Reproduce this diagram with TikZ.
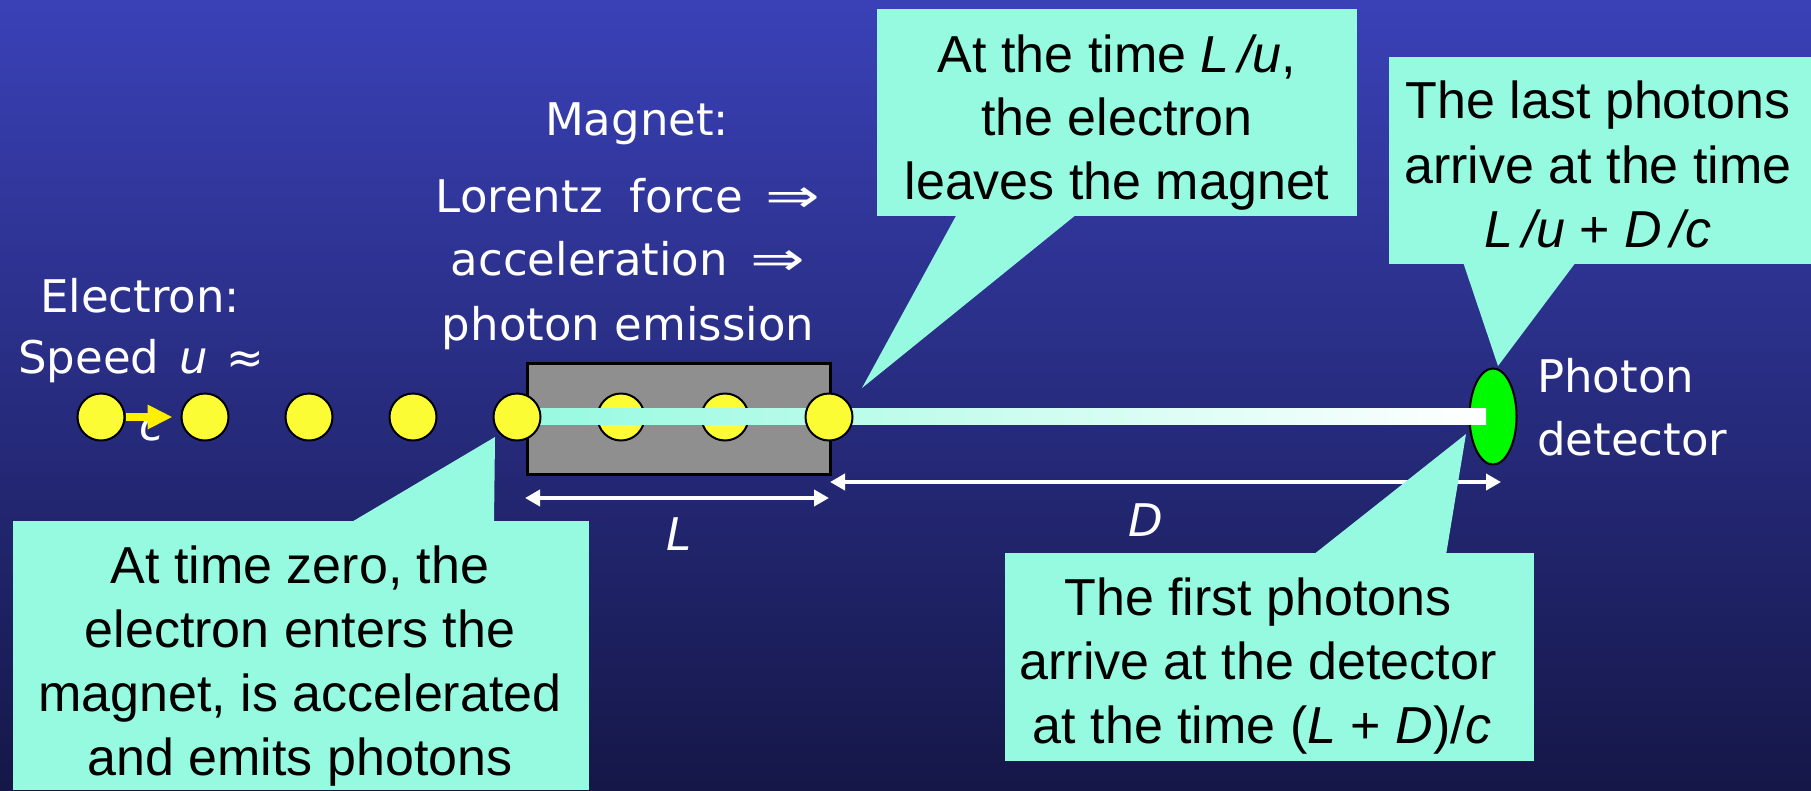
\documentclass[tikz,border=0pt]{standalone}
\usepackage{fontspec}
\usepackage{graphicx}
\setmainfont{Liberation Sans}
\newfontfamily\labfont{DejaVu Sans}
\usetikzlibrary{arrows.meta,shapes.geometric,calc}
\definecolor{aqua}{RGB}{150,250,224}
\definecolor{bgtop}{RGB}{58,65,183}
\definecolor{bgmid}{RGB}{40,45,135}
\definecolor{bgbot}{RGB}{21,23,72}
\definecolor{dotyellow}{RGB}{252,252,52}
\definecolor{arrowyellow}{RGB}{255,240,0}
\definecolor{magnetgray}{RGB}{143,143,143}
\definecolor{detgreen}{RGB}{0,250,0}
\newcommand{\bigimplies}{\scalebox{1.45}[1.05]{⇒}}
\tikzset{
  electron/.style={circle, draw=black, line width=2pt, fill=dotyellow, minimum size=47pt, inner sep=0pt},
  calloutbox/.style={fill=aqua, draw=none, inner sep=0pt, anchor=north west},
  pointer/.style={fill=aqua, draw=none},
  boxtext/.style={anchor=base, inner sep=0pt, font=\fontsize{52}{62}\selectfont, text=black},
  whitetext/.style={anchor=base, inner sep=0pt, font=\labfont\fontsize{45}{60}\selectfont, text=white},
  whiteital/.style={anchor=base, inner sep=0pt, font=\labfont\itshape\fontsize{45}{60}\selectfont, text=white},
  dimline/.style={draw=white, line width=4pt, {Triangle[length=15pt,width=16pt]}-{Triangle[length=15pt,width=16pt]}},
}
\begin{document}
\begin{tikzpicture}[x=1pt,y=-1pt]
\useasboundingbox (0,0) rectangle (1811,790);
\shade[top color=bgtop, middle color=bgmid, bottom color=bgbot] (0,0) rectangle (1811,790);

% magnet
\node[draw=black, line width=2.5pt, fill=magnetgray, minimum width=303pt, minimum height=111pt, inner sep=0pt, anchor=north west] (magnet) at (526,362) {};

% electrons inside the magnet (under the beam)
\node[electron] (e6) at (621,417) {};
\node[electron] (e7) at (725,417) {};

% detector
\node[ellipse, draw=black, line width=2pt, fill=detgreen, minimum width=47pt, minimum height=96pt, inner sep=0pt] (det) at (1493,416.5) {};

% photon beam
\shade[left color=aqua, right color=white] (517,408) rectangle (1486,424);

% other electrons
\node[electron] (e1) at (101,417) {};
\node[electron] (e2) at (205,417) {};
\node[electron] (e3) at (309,417) {};
\node[electron] (e4) at (413,417) {};
\node[electron] (e5) at (517,417) {};
\node[electron] (e8) at (829,417) {};

% electron labels
\node[whitetext] (elab) at (140,312) {Electron:};
\node[whitetext] (speed) at (141,373) {Speed\hspace{0.45em}\textit{u}\hspace{0.4em}≈};
\node[whiteital] (clab) at (152,440) {c};
\draw[arrowyellow, line width=8pt, -{Triangle[length=25pt,width=23pt]}, shorten >=8pt] (e1.east) -- (e2.west);

% magnet labels
\node[whitetext] (mag1) at (637,135) {Magnet:};
\node[whitetext] (mag2) at (628,212) {Lorentz\hspace{0.6em}force\hspace{0.5em}\bigimplies};
\node[whitetext] (mag3) at (628,275) {acceleration\hspace{0.5em}\bigimplies};
\node[whitetext] (mag4) at (628,340) {photon emission};

% detector labels
\node[whitetext, anchor=base west] (det1) at (1537,392) {Photon};
\node[whitetext, anchor=base west] (det2) at (1537,455) {detector};

% dimension arrows
\coordinate (La) at (525,498);
\coordinate (Lb) at (829,498);
\coordinate (Da) at (830,482);
\coordinate (Db) at (1501,482);
\draw[dimline] (La) -- (Lb);
\draw[dimline] (Da) -- (Db);
\node[whiteital] (Llab) at (679,550) {L};
\node[whiteital] (Dlab) at (1146,536) {D};

% callout 1
\node[calloutbox, minimum width=576pt, minimum height=269pt] (c1) at (13,521) {};
\coordinate (tip1) at (495,437);
\fill[pointer] (350,523) -- (tip1) -- (494,523) -- cycle;
\node[boxtext] (c1a) at (300,583) {At time zero, the};
\node[boxtext] (c1b) at (300,647) {electron enters the};
\node[boxtext] (c1c) at (300,711) {magnet, is accelerated};
\node[boxtext] (c1d) at (300,775) {and emits photons};

% callout 2
\node[calloutbox, minimum width=480pt, minimum height=207pt] (c2) at (877,9) {};
\coordinate (tip2) at (862,388);
\fill[pointer] (957,214) -- (tip2) -- (1077,214) -- cycle;
\node[boxtext] (c2a) at (1117,72) {At the time \textit{L\,/u},};
\node[boxtext] (c2b) at (1117,135) {the electron};
\node[boxtext] (c2c) at (1117,199) {leaves the magnet};

% callout 3
\node[calloutbox, minimum width=422pt, minimum height=207pt] (c3) at (1389,57) {};
\coordinate (tip3) at (1498,366);
\fill[pointer] (1463,262) -- (tip3) -- (1576,262) -- cycle;
\node[boxtext] (c3a) at (1598,118) {The last photons};
\node[boxtext] (c3b) at (1598,183) {arrive at the time};
\node[boxtext] (c3c) at (1598,247) {\textit{L\,/u} + \textit{D\,/c}};

% callout 4
\node[calloutbox, minimum width=529pt, minimum height=208pt] (c4) at (1005,553) {};
\coordinate (tip4) at (1466,434);
\fill[pointer] (1313,555) -- (tip4) -- (1446,555) -- cycle;
\node[boxtext] (c4a) at (1258,615) {The first photons};
\node[boxtext] (c4b) at (1258,679) {arrive at the detector};
\node[boxtext] (c4c) at (1262,743) {at the time (\textit{L} + \textit{D})/\textit{c}};
\end{tikzpicture}
\end{document}
